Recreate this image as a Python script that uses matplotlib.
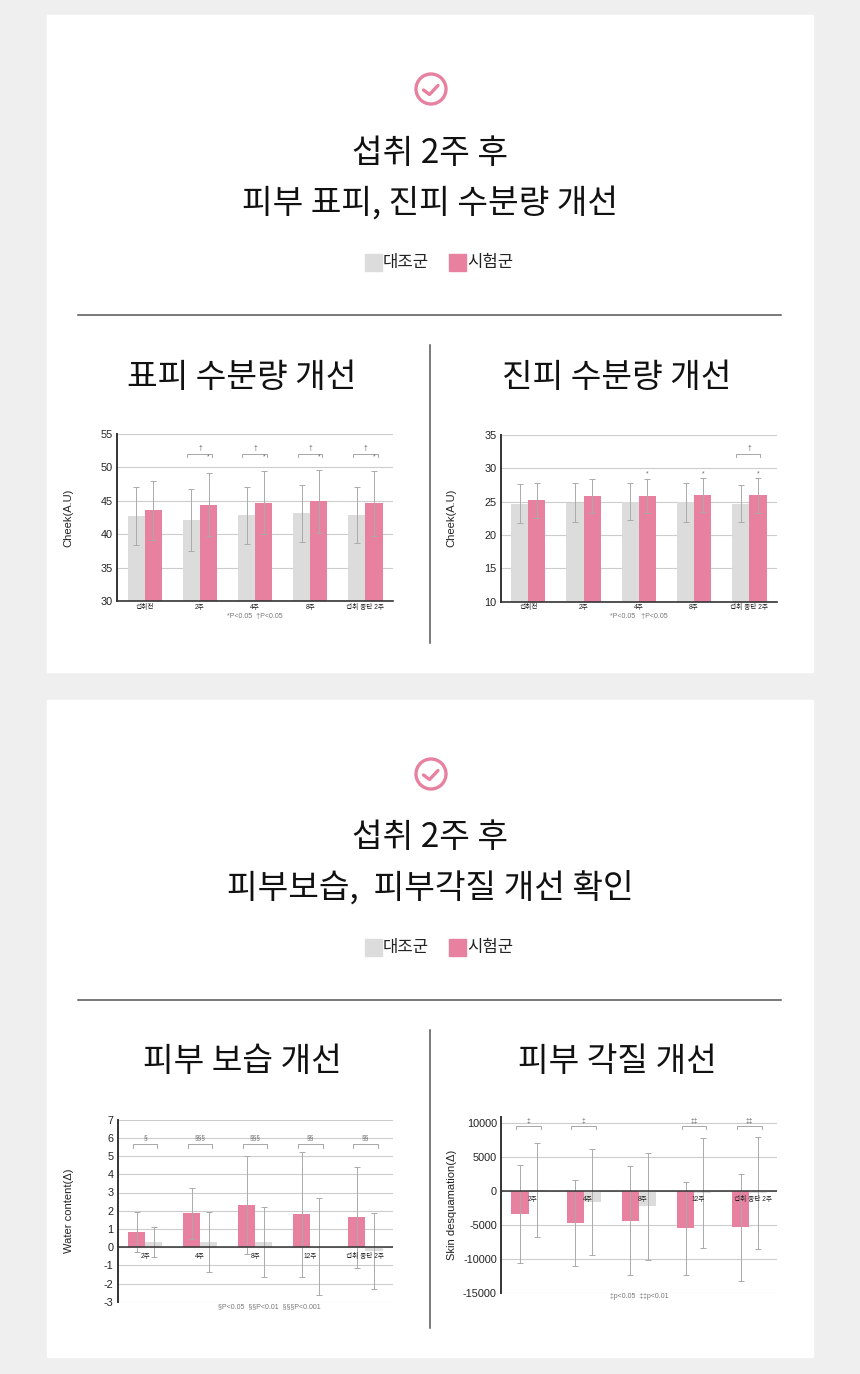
import matplotlib.pyplot as plt
import matplotlib.patches as mpatches
import numpy as np

plt.rcParams['font.family'] = ['Liberation Sans', 'Noto Sans CJK KR', 'DejaVu Sans']
plt.rcParams['axes.unicode_minus'] = False
KR = ['Noto Sans CJK KR', 'DejaVu Sans']

W, H = 860, 1374

# ---- data ----
cats_a = ["섭취전", "2주", "4주", "8주", "섭취 중단 2주"]
cats_b = ["2주", "4주", "8주", "12주", "섭취 중단 2주"]

# 표피 수분량 (Cheek A.U)
epi_ctrl = [42.7, 42.1, 42.8, 43.1, 42.9]
epi_ctrl_err = [4.3, 4.6, 4.2, 4.2, 4.2]
epi_test = [43.6, 44.4, 44.7, 44.9, 44.6]
epi_test_err = [4.4, 4.7, 4.7, 4.7, 4.9]
epi_bracket = ["", "†", "†", "†", "†"]
epi_star = ["", "*", "*", "*", "*"]

# 진피 수분량 (Cheek A.U)
der_ctrl = [24.7, 24.8, 25.0, 24.9, 24.7]
der_ctrl_err = [2.9, 2.9, 2.8, 2.9, 2.8]
der_test = [25.2, 25.8, 25.8, 26.0, 25.9]
der_test_err = [2.6, 2.5, 2.5, 2.5, 2.6]
der_bracket = ["", "", "", "", "†"]
der_star = ["", "", "*", "*", "*"]

# 피부 보습 (Water content change)
moist_test = [0.85, 1.85, 2.3, 1.8, 1.63]
moist_test_err = [1.1, 1.4, 2.7, 3.45, 2.77]
moist_ctrl = [0.28, 0.3, 0.28, 0.02, -0.22]
moist_ctrl_err = [0.8, 1.65, 1.95, 2.67, 2.08]
moist_bracket = ["§", "§§§", "§§§", "§§", "§§"]

# 피부 각질 (Skin desquamation change)
desq_test = [-3340, -4620, -4320, -5450, -5300]
desq_test_err = [7200, 6350, 8000, 6900, 7850]
desq_ctrl = [250, -1600, -2180, -220, -220]
desq_ctrl_err = [6950, 7790, 7900, 8100, 8280]
desq_bracket = ["‡", "‡", "", "‡‡", "‡‡"]

GRAY = "#dcdcdc"
PINK = "#e8819f"
ERR = "#aaaaaa"
DARK = "#333333"
GRID = "#cccccc"

fig = plt.figure(figsize=(W / 100, H / 100), dpi=100)
fig.patch.set_facecolor("#efefef")

bg = fig.add_axes([0, 0, 1, 1])
bg.set_xlim(0, W)
bg.set_ylim(H, 0)
bg.axis("off")


def header(dy, line2):
    bg.add_patch(mpatches.Rectangle((47, 15 + dy), 766, 657, color="white", zorder=0))
    # check icon
    bg.add_patch(mpatches.Circle((431, 89 + dy), 15, fill=False, ec=PINK, lw=2.4))
    bg.plot([423.5, 429.5, 438], [90 + dy, 94.5 + dy, 85.5 + dy], color=PINK, lw=2.4,
            solid_capstyle="round", solid_joinstyle="round")
    bg.text(430, 153 + dy, "섭취 2주 후", ha="center", va="center", fontsize=24,
            color="#111111", family=KR)
    bg.text(430, 203 + dy, line2, ha="center", va="center", fontsize=24, color="#111111",
            family=KR)
    bg.add_patch(mpatches.Rectangle((365, 254 + dy), 17, 17, color=GRAY))
    bg.text(383, 262.5 + dy, "대조군", ha="left", va="center", fontsize=12, color="#222222",
            family=KR)
    bg.add_patch(mpatches.Rectangle((449, 254 + dy), 17, 17, color=PINK))
    bg.text(467, 262.5 + dy, "시험군", ha="left", va="center", fontsize=12, color="#222222",
            family=KR)
    bg.plot([78, 781], [315 + dy, 315 + dy], color="#555555", lw=1.1)
    bg.plot([430, 430], [345 + dy, 643 + dy], color="#555555", lw=1.1)


header(0, "피부 표피, 진피 수분량 개선")
header(685, "피부보습,  피부각질 개선 확인")
for cx, cy, t in [(242, 377, "표피 수분량 개선"), (617, 377, "진피 수분량 개선"),
                  (242, 1061, "피부 보습 개선"), (617, 1061, "피부 각질 개선")]:
    bg.text(cx, cy, t, ha="center", va="center", fontsize=24, color="#111111", family=KR)


def px_axes(left, top, right, bottom):
    return fig.add_axes([left / W, 1 - bottom / H, (right - left) / W, (bottom - top) / H])


def style(ax, yticks, ylabel, bottom_spine=True):
    ax.set_xlim(-0.5, 4.5)
    ax.set_yticks(yticks)
    ax.yaxis.grid(True, color=GRID, lw=0.8)
    ax.set_axisbelow(True)
    for s in ["top", "right"]:
        ax.spines[s].set_visible(False)
    ax.spines["left"].set_color(DARK)
    ax.spines["left"].set_linewidth(1.4)
    ax.spines["bottom"].set_color(DARK)
    ax.spines["bottom"].set_linewidth(1.2)
    ax.spines["bottom"].set_visible(bottom_spine)
    ax.tick_params(axis="y", length=0, labelsize=7.8, pad=3, labelcolor="#222222")
    ax.tick_params(axis="x", length=0, labelsize=4.8, pad=2, labelcolor="#222222")
    ax.set_ylabel(ylabel, fontsize=8, color="#222222")
    ax.yaxis.set_label_coords(-0.16, 0.5)


def bracket(ax, labels, y, drop, label_y, lo=-0.23, hi=0.22):
    for i, lab in enumerate(labels):
        if not lab:
            continue
        ax.plot([i + lo, i + lo, i + hi, i + hi], [y - drop, y, y, y - drop],
                color="#999999", lw=0.6, clip_on=False)
        ax.text(i, label_y, lab, ha="center", va="center", fontsize=4.8, color="#666666")


x = np.arange(len(cats_a))
w = 0.31
ekw = dict(ecolor=ERR, elinewidth=0.7, capsize=2.4, capthick=0.7)

# chart 1
ax1 = px_axes(117.3, 434, 393, 601)
ax1.bar(x - w / 2, epi_ctrl, w, color=GRAY, yerr=epi_ctrl_err, error_kw=ekw)
ax1.bar(x + w / 2, epi_test, w, color=PINK, yerr=epi_test_err, error_kw=ekw)
ax1.set_ylim(30, 55)
style(ax1, np.arange(30, 56, 5), "Cheek(A.U)")
ax1.set_xticks(x)
ax1.set_xticklabels(cats_a)
bracket(ax1, epi_bracket, 52.0, 0.4, 52.85)
for i, s in enumerate(epi_star):
    if s:
        ax1.text(i + w / 2, 51.5, s, ha="center", va="center", fontsize=4.8, color="#666666")
ax1.text(0.5, -0.09, "*P<0.05  †P<0.05", transform=ax1.transAxes, ha="center", va="center",
         fontsize=5, color="#777777")

# chart 2
ax2 = px_axes(500.7, 434.7, 777, 601.7)
ax2.bar(x - w / 2, der_ctrl, w, color=GRAY, yerr=der_ctrl_err, error_kw=ekw)
ax2.bar(x + w / 2, der_test, w, color=PINK, yerr=der_test_err, error_kw=ekw)
ax2.set_ylim(10, 35)
style(ax2, np.arange(10, 36, 5), "Cheek(A.U)")
ax2.set_xticks(x)
ax2.set_xticklabels(cats_a)
bracket(ax2, der_bracket, 32.05, 0.45, 32.9, lo=-0.24, hi=0.19)
for i, s in enumerate(der_star):
    if s:
        ax2.text(i + w / 2, 29.1, s, ha="center", va="center", fontsize=4.8, color="#666666")
ax2.text(0.5, -0.09, "*P<0.05   †P<0.05", transform=ax2.transAxes, ha="center", va="center",
         fontsize=5, color="#777777")

# chart 3
ax3 = px_axes(117.7, 1119.7, 393, 1301.7)
ax3.bar(x - w / 2, moist_test, w, color=PINK, yerr=moist_test_err, error_kw=ekw)
ax3.bar(x + w / 2, moist_ctrl, w, color=GRAY, yerr=moist_ctrl_err, error_kw=ekw)
ax3.set_ylim(-3, 7)
style(ax3, np.arange(-3, 8, 1), "Water content(Δ)", bottom_spine=False)
ax3.set_xticks([])
ax3.axhline(0, color=DARK, lw=1.1)
for i, c in enumerate(cats_b):
    ax3.text(i, -0.53, c, ha="center", va="center", fontsize=4.8, color="#222222")
bracket(ax3, moist_bracket, 5.64, 0.18, 5.98)
ax3.text(0.55, -0.03, "§P<0.05  §§P<0.01  §§§P<0.001", transform=ax3.transAxes, ha="center",
         va="center", fontsize=5, color="#777777")

# chart 4
ax4 = px_axes(501, 1116.7, 777, 1293.3)
ax4.bar(x - w / 2, desq_test, w, color=PINK, yerr=desq_test_err, error_kw=ekw)
ax4.bar(x + w / 2, desq_ctrl, w, color=GRAY, yerr=desq_ctrl_err, error_kw=ekw)
ax4.set_ylim(-15000, 11000)
style(ax4, np.arange(-15000, 10001, 5000), "Skin desquamation(Δ)", bottom_spine=False)
ax4.set_xticks([])
ax4.axhline(0, color=DARK, lw=1.1)
for i, c in enumerate(cats_b):
    ax4.text(i + 0.07, -1130, c, ha="center", va="center", fontsize=4.8, color="#222222")
bracket(ax4, desq_bracket, 9580, 400, 10360)
ax4.text(0.5, -0.02, "‡p<0.05  ‡‡p<0.01", transform=ax4.transAxes, ha="center", va="center",
         fontsize=5, color="#777777")

fig.savefig("out.png", dpi=100, facecolor=fig.get_facecolor())
plt.close(fig)
